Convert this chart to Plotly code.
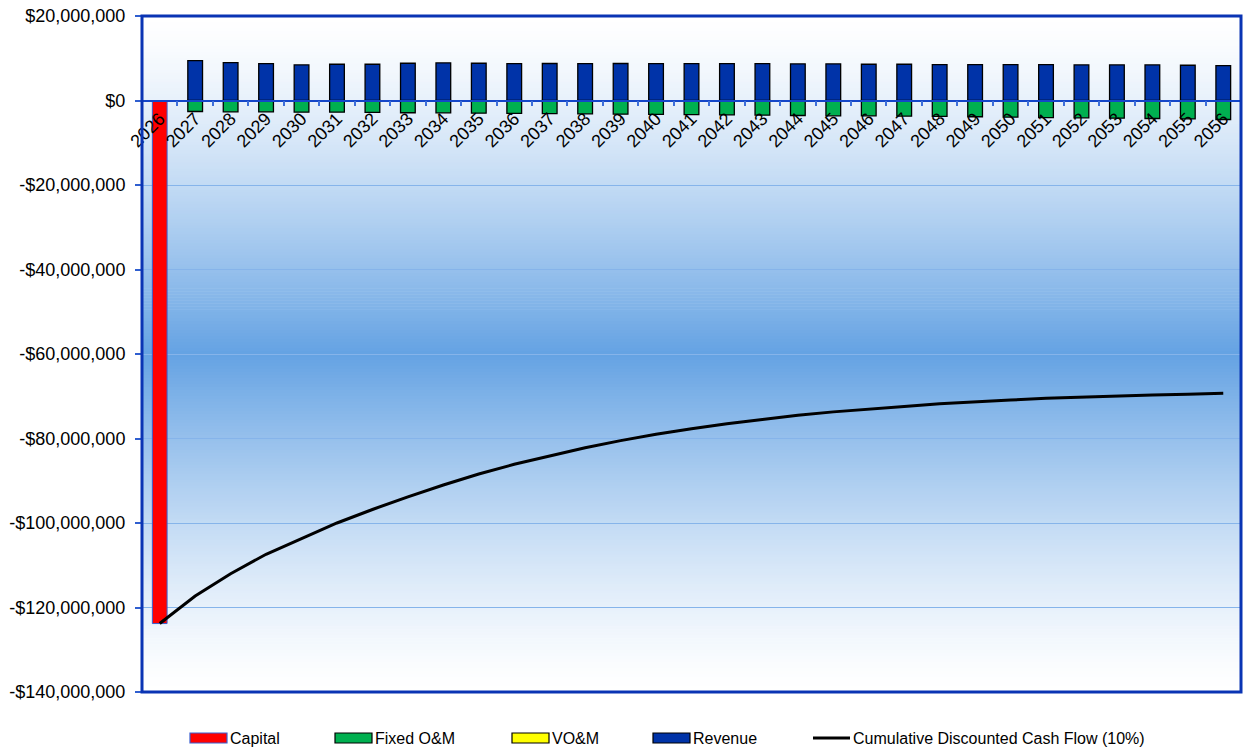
import plotly.graph_objects as go

# ---- data (values in $ millions) ----
years = [str(y) for y in range(2026, 2057)]

capital = [-123.8] + [None] * 30

fixed_om = [None,
            -2.60, -2.68, -2.68, -2.76, -2.76, -2.80, -2.90, -2.92, -3.00, -3.06,
            -3.10, -3.16, -3.24, -3.30, -3.32, -3.39, -3.47, -3.55, -3.62, -3.64,
            -3.71, -3.74, -3.85, -3.93, -4.03, -4.10, -4.18, -4.26, -4.34, -4.50]

vom = [None] * 31

revenue = [None,
           9.46, 8.98, 8.74, 8.42, 8.58, 8.58, 8.82, 8.90, 8.82, 8.74,
           8.76, 8.74, 8.76, 8.74, 8.74, 8.74, 8.74, 8.66, 8.66, 8.58,
           8.58, 8.50, 8.50, 8.50, 8.50, 8.42, 8.42, 8.42, 8.34, 8.26]

cum_dcf = [-123.8, -117.3, -112.0, -107.4, -103.7, -100.0, -96.8, -93.8, -91.0, -88.4,
           -86.1, -84.1, -82.2, -80.5, -79.0, -77.7, -76.5, -75.5, -74.5, -73.7,
           -73.0, -72.4, -71.8, -71.3, -70.9, -70.5, -70.2, -69.9, -69.7, -69.5,
           -69.3]

y_tick_vals = [20, 0, -20, -40, -60, -80, -100, -120, -140]
y_tick_text = ["$20,000,000", "$0", "-$20,000,000", "-$40,000,000", "-$60,000,000",
               "-$80,000,000", "-$100,000,000", "-$120,000,000", "-$140,000,000"]

legend_names = ["Capital", "Fixed O&M", "VO&M", "Revenue",
                "Cumulative Discounted Cash Flow (10%)"]

M = 1e6


def dollars(vals):
    return [None if v is None else v * M for v in vals]


# ---- layout geometry (pixels) ----
W, H = 1243, 748
ML, MR, MT, MB = 142, 2, 16, 56
PW, PH = W - ML - MR, H - MT - MB
Y_MIN, Y_MAX = -140, 20


def px_x(px):
    return (px - ML) / PW


def px_y(py):
    return (H - MB - py) / PH


RED = "#FF0000"
GREEN = "#00B050"
YELLOW = "#FFFF00"
NAVY = "#0033A8"
FRAME = "#0A34B4"
GRID = "#86B4EA"
FONT = "Liberation Sans, Arial, sans-serif"

fig = go.Figure()

fig.add_trace(go.Bar(x=years, y=dollars(capital), name=legend_names[0],
                     marker=dict(color=RED, line=dict(color="#3A5FCF", width=1))))
fig.add_trace(go.Bar(x=years, y=dollars(fixed_om), name=legend_names[1],
                     marker=dict(color=GREEN, line=dict(color="#000000", width=1.3))))
fig.add_trace(go.Bar(x=years, y=dollars(vom), name=legend_names[2],
                     marker=dict(color=YELLOW, line=dict(color="#000000", width=1.3))))
fig.add_trace(go.Bar(x=years, y=dollars(revenue), name=legend_names[3],
                     marker=dict(color=NAVY, line=dict(color="#000000", width=1.3))))
fig.add_trace(go.Scatter(x=years, y=dollars(cum_dcf), name=legend_names[4],
                         mode="lines", line=dict(color="#000000", width=3)))

for tr in fig.data:
    tr.showlegend = False

# ---- background: white -> blue -> white vertical gradient ----
shapes = []
n_bands = 226
c_edge = (255, 255, 255)
c_mid = (100, 162, 227)
for i in range(n_bands):
    t = (i + 0.5) / n_bands
    d = 1 - abs(2 * t - 1)
    w = d ** 1.35
    r, g, b = (round(c_edge[k] * (1 - w) + c_mid[k] * w) for k in range(3))
    y1 = 1 - i / n_bands
    y0 = 1 - (i + 1) / n_bands - 0.001
    shapes.append(dict(type="rect", xref="paper", yref="paper", x0=0, x1=1,
                       y0=max(y0, 0), y1=y1, line=dict(width=0),
                       fillcolor=f"rgb({r},{g},{b})", layer="below"))

# plot frame
shapes.append(dict(type="rect", xref="paper", yref="paper", x0=0, x1=1, y0=0, y1=1,
                   line=dict(color=FRAME, width=3), layer="above"))

# ---- legend drawn along the bottom ----
annotations = []
legend_items = [
    (legend_names[0], "bar", RED, "#3A5FCF", 190),
    (legend_names[1], "bar", GREEN, "#000000", 335),
    (legend_names[2], "bar", YELLOW, "#000000", 512),
    (legend_names[3], "bar", NAVY, "#000000", 653),
    (legend_names[4], "line", "#000000", "#000000", 813),
]
ly = 738
for name, kind, fill, edge, x0 in legend_items:
    if kind == "bar":
        shapes.append(dict(type="rect", xref="paper", yref="paper",
                           x0=px_x(x0), x1=px_x(x0 + 37), y0=px_y(ly + 5), y1=px_y(ly - 5),
                           fillcolor=fill, line=dict(color=edge, width=1.2), layer="above"))
    else:
        shapes.append(dict(type="line", xref="paper", yref="paper",
                           x0=px_x(x0), x1=px_x(x0 + 37), y0=px_y(ly), y1=px_y(ly),
                           line=dict(color=fill, width=3), layer="above"))
    annotations.append(dict(text=name, xref="paper", yref="paper", x=px_x(x0 + 38),
                            y=px_y(ly), xanchor="left", yanchor="middle", showarrow=False,
                            font=dict(family=FONT, size=16, color="#000000")))

fig.update_layout(
    width=W, height=H,
    margin=dict(l=ML, r=MR, t=MT, b=MB, pad=0),
    paper_bgcolor="#FFFFFF",
    plot_bgcolor="rgba(0,0,0,0)",
    barmode="relative",
    bargap=0.585,
    showlegend=False,
    font=dict(family=FONT, size=18, color="#000000"),
    shapes=shapes,
    annotations=annotations,
    xaxis=dict(
        type="category",
        anchor="free",
        position=(0 - Y_MIN) / (Y_MAX - Y_MIN),
        showline=True, linecolor="#1446C8", linewidth=1.5,
        ticks="outside", tickson="boundaries", ticklen=5, tickcolor="#3F6FD8", tickwidth=1.5,
        tickangle=-45,
        tickfont=dict(family=FONT, size=18, color="#000000"),
        showgrid=False, zeroline=False,
    ),
    yaxis=dict(
        range=[Y_MIN * M, Y_MAX * M],
        tickvals=[v * M for v in y_tick_vals],
        ticktext=y_tick_text,
        ticks="outside", ticklen=6, tickcolor="#2F5FD0", tickwidth=1.5,
        ticklabelstandoff=6,
        tickfont=dict(family=FONT, size=18, color="#000000"),
        showgrid=True, gridcolor=GRID, gridwidth=1,
        zeroline=False, showline=False,
    ),
)

fig.write_html("out.html")
